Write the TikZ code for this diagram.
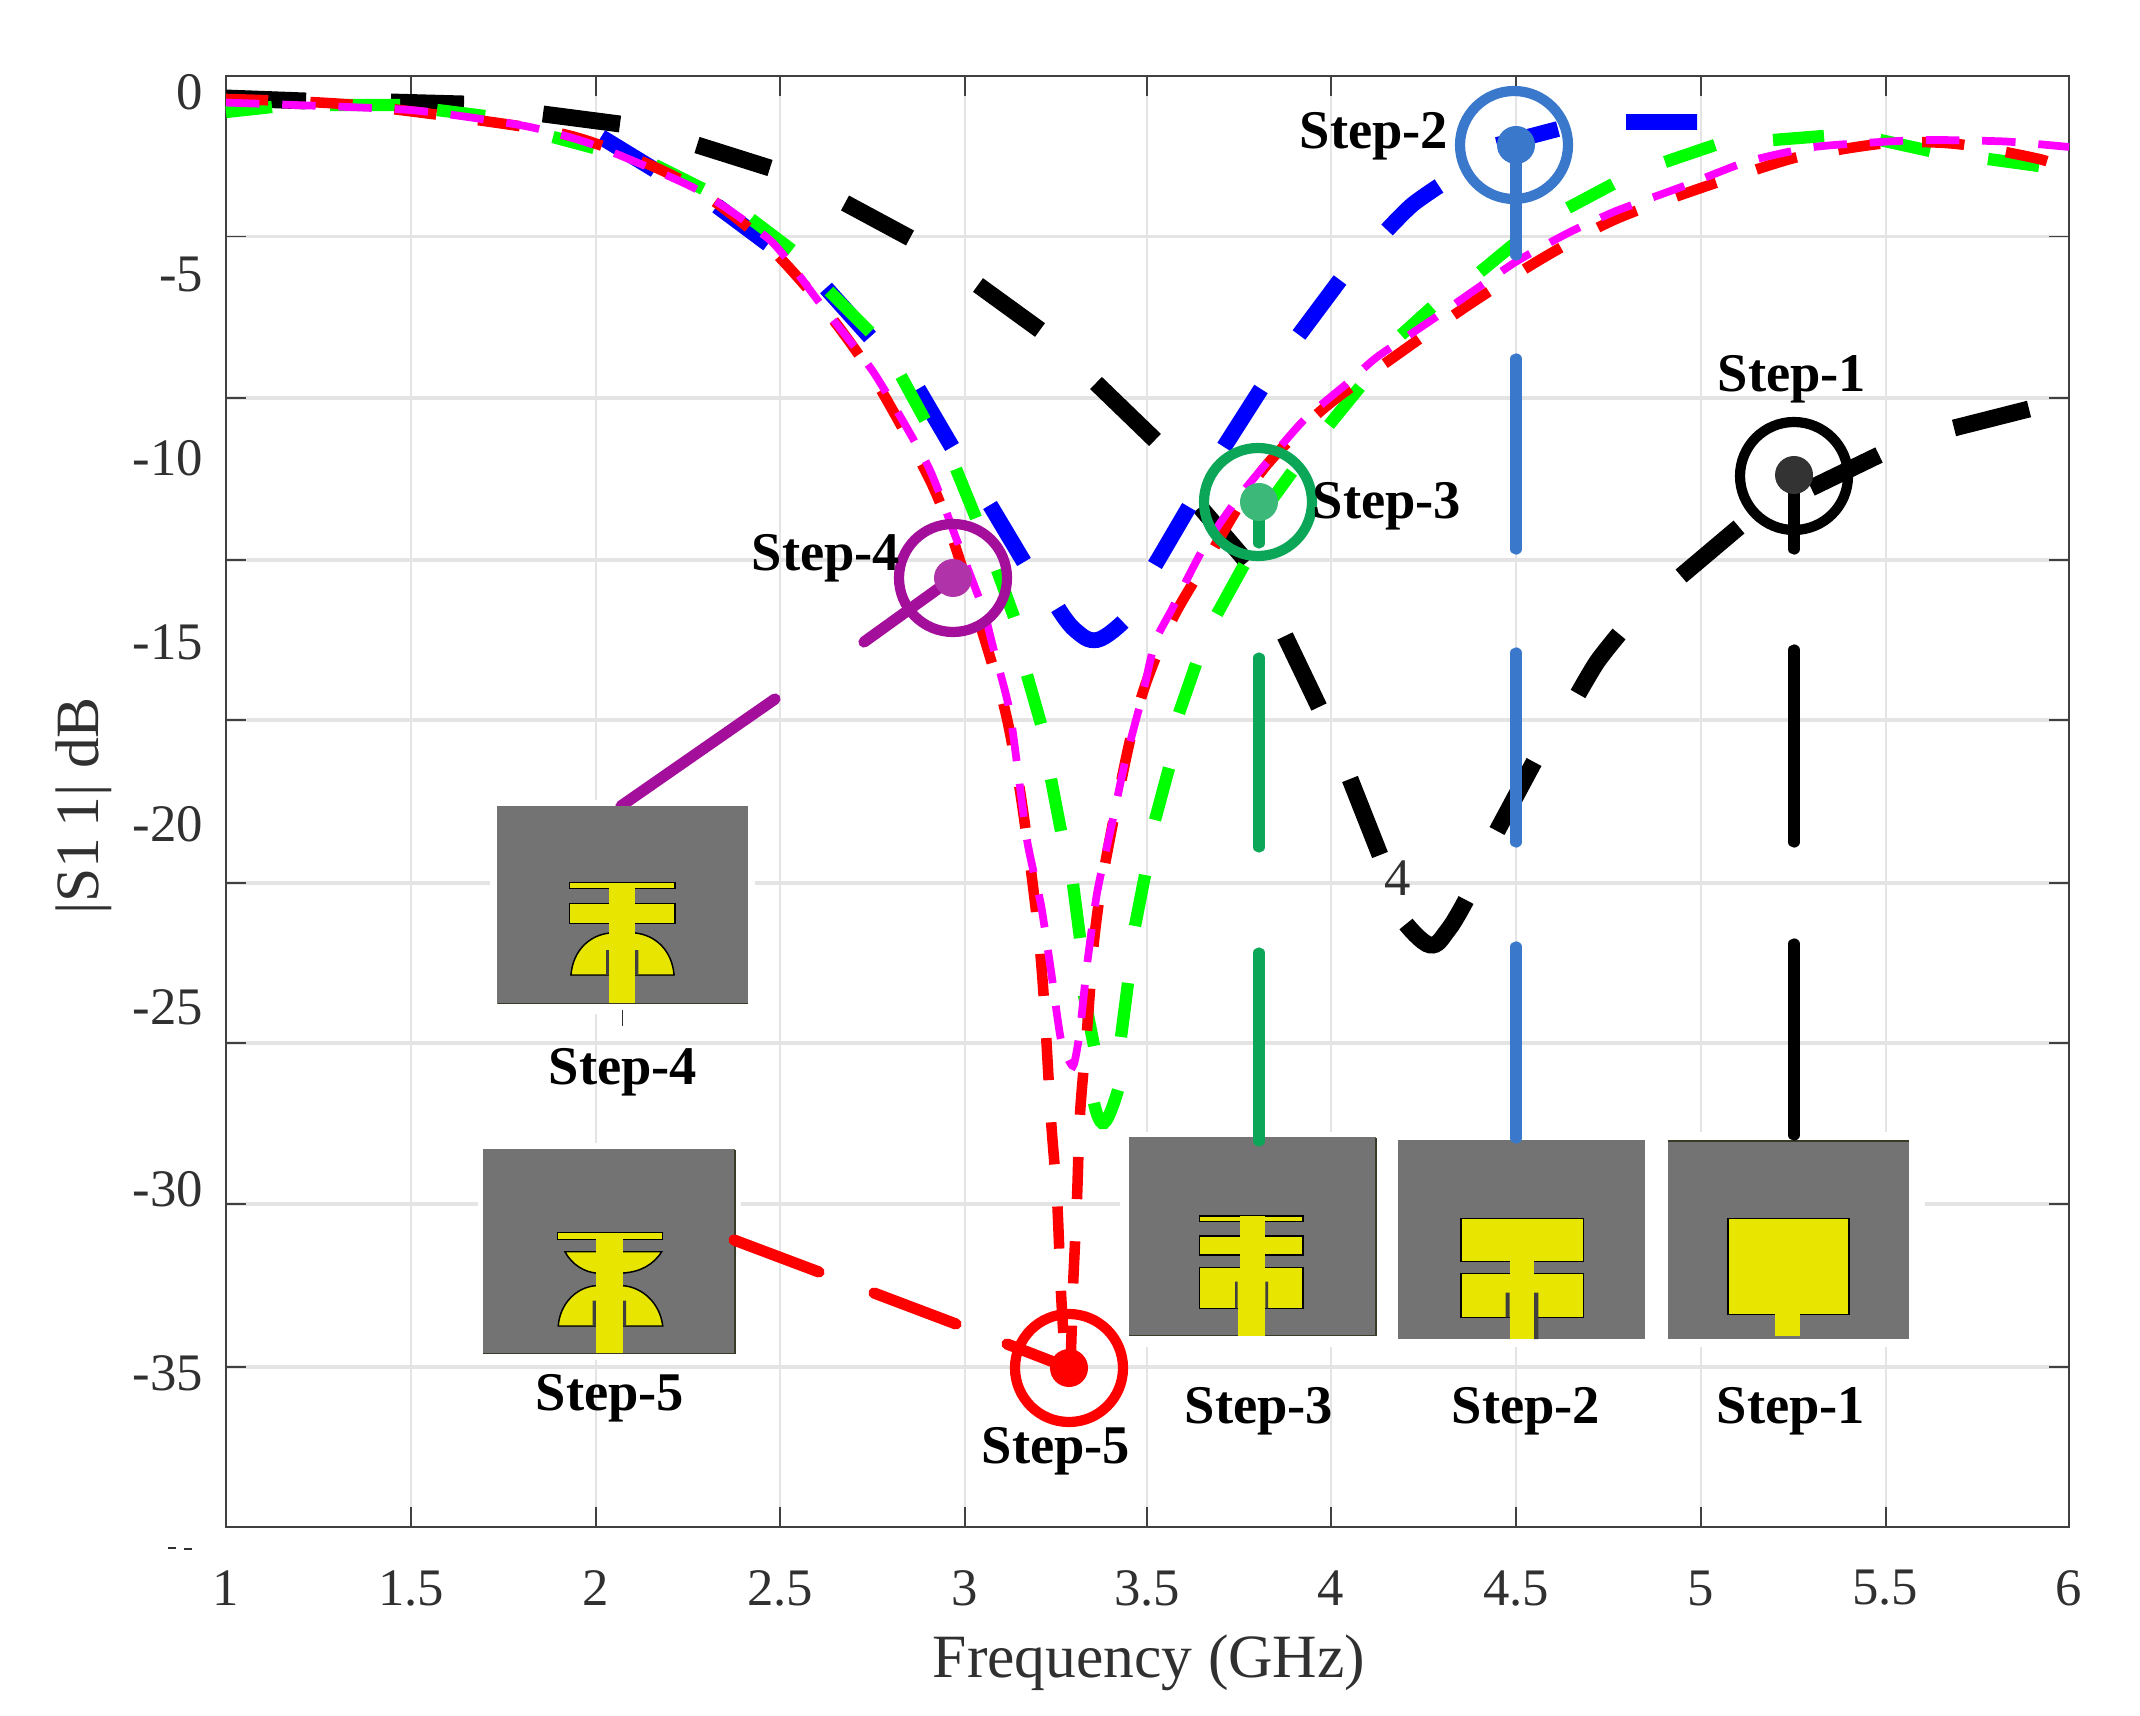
\documentclass[tikz,border=0pt]{standalone}
\usepackage{fontspec}
\setmainfont{Liberation Serif}
\definecolor{gridc}{HTML}{E4E4E4}
\definecolor{axisc}{HTML}{404040}
\definecolor{txtc}{HTML}{303030}
\definecolor{subc}{HTML}{737373}
\definecolor{antY}{HTML}{E8E600}
\definecolor{antD}{HTML}{3A3A28}
\definecolor{mkA}{HTML}{000000}
\definecolor{mkB}{HTML}{3A78CC}
\definecolor{mkC}{HTML}{0BA658}
\definecolor{mkD}{HTML}{A30F9A}
\definecolor{mkE}{HTML}{FF0000}
\definecolor{cBlue}{HTML}{0000FF}
\definecolor{cGreen}{HTML}{00FF00}
\definecolor{cRed}{HTML}{FF0000}
\definecolor{cMag}{HTML}{FF00FF}
\tikzset{
  x=0.01cm,y=-0.01cm,
  gridv/.style={gridc,line width=0.6pt},
  gridh/.style={gridc,line width=0.9pt},
  axisl/.style={axisc,line width=0.7pt},
  tickl/.style={axisc,line width=0.5pt},
  ticktxt/.style={font=\fontsize{15}{18}\selectfont,text=txtc,inner sep=0pt},
  axtxt/.style={font=\fontsize{17.5}{20}\selectfont,text=txtc,inner sep=0pt},
  steptxt/.style={font=\fontsize{15.5}{18}\selectfont\bfseries,inner sep=0pt},
  curveK/.style={black,line width=4.8pt},
  curveB/.style={cBlue,line width=4.5pt},
  curveG/.style={cGreen,line width=3.5pt},
  curveR/.style={cRed,line width=3pt,dash pattern=on 12pt off 12pt},
  curveM/.style={cMag,line width=2.2pt,dash pattern=on 9.5pt off 6.5pt},
  mark ring/.style={#1,line width=2.9pt},
  lead/.style={#1,line width=3.2pt,line cap=round},
  sub/.style={fill=subc},
  ant/.style={fill=antY,preaction={draw=antD,line width=0.4pt}},
  antp/.style={fill=antY},
  slot/.style={fill=subc!55!black},
  mask/.style={fill=white}
}
\begin{document}
\begin{tikzpicture}
\useasboundingbox (0,0) rectangle (2140,1716);
\fill[white] (0,0) rectangle (2140,1716);
% grid
\foreach \xx in {411,596,780,965,1147,1331,1516,1701,1886}
  \draw[gridv] (\xx,76) -- (\xx,1527);
\foreach \yy in {236.5,398,560,720,883,1043,1204,1367}
  \draw[gridh] (226,\yy) -- (2069,\yy);
% ticks
\foreach \xx in {411,596,780,965,1147,1331,1516,1701,1886}{
  \draw[tickl] (\xx,76) -- (\xx,96);
  \draw[tickl] (\xx,1527) -- (\xx,1507);}
\foreach \yy in {236.5,398,560,720,883,1043,1204,1367}{
  \draw[tickl] (226,\yy) -- (246,\yy);
  \draw[tickl] (2069,\yy) -- (2049,\yy);}
\draw[axisl] (226,76) rectangle (2069,1527);
% tick labels
\node[ticktxt,anchor=east] (ya) at (204,92) {0};
\node[ticktxt,anchor=east] (yb) at (204,274) {-5};
\node[ticktxt,anchor=east] (yc) at (204,458) {-10};
\node[ticktxt,anchor=east] (yd) at (204,642) {-15};
\node[ticktxt,anchor=east] (ye) at (204,824) {-20};
\node[ticktxt,anchor=east] (yf) at (204,1007) {-25};
\node[ticktxt,anchor=east] (yg) at (204,1189) {-30};
\node[ticktxt,anchor=east] (yh) at (204,1373) {-35};
\draw[txtc,line width=0.4pt] (168,1548) -- (176,1548) (184,1549) -- (192,1549);
\node[ticktxt] (xa) at (226,1588) {1};
\node[ticktxt] (xb) at (411,1588) {1.5};
\node[ticktxt] (xc) at (596,1588) {2};
\node[ticktxt] (xd) at (780,1588) {2.5};
\node[ticktxt] (xe) at (965,1588) {3};
\node[ticktxt] (xf) at (1147,1588) {3.5};
\node[ticktxt] (xg) at (1331,1588) {4};
\node[ticktxt] (xh) at (1516,1588) {4.5};
\node[ticktxt] (xi) at (1701,1588) {5};
\node[ticktxt] (xj) at (1885,1588) {5.5};
\node[ticktxt] (xk) at (2069,1588) {6};
\node[axtxt] (xlab) at (1149,1663) {Frequency (GHz)};
\node[axtxt,rotate=90] (ylab) at (84,806) {|S1\,1| dB};
% black curve
\draw[curveK] (226,98)--(306,101) (391,102)--(464,104) (543,114)--(620,124)
  (697,145)--(770,168) (845,203)--(910,238) (978,285)--(1040,330)
  (1096,383)--(1155,440) (1200,507)--(1247,562) (1285,636)--(1319,707)
  (1350,779)--(1380,855);
\draw[curveK] plot[smooth,tension=0.7] coordinates {(1406,924) (1430,945) (1448,930) (1466,900)};
\draw[curveK] (1497,831)--(1534,762);
\draw[curveK] plot[smooth] coordinates {(1578,694) (1597,662) (1619,634)};
\draw[curveK] (1681,576)--(1739,527) (1811,488)--(1879,455) (1954,428)--(2029,409);
\node[ticktxt] (stray) at (1398,878) {4};
% blue curve
\draw[curveB] (601,137)--(655,170) (717,206)--(768,244) (826,288)--(870,337)
  (918,389)--(952,447) (990,505)--(1024,562);
\draw[curveB] plot[smooth,tension=0.7] coordinates {(1058,608) (1075,630) (1097,640) (1123,622)};
\draw[curveB] (1155,565)--(1189,507) (1224,447)--(1261,389) (1299,335)--(1340,280);
\draw[curveB] plot[smooth] coordinates {(1387,230) (1412,205) (1439,186)};
\draw[curveB] (1497,145)--(1558,129) (1626,122)--(1697,122);
% green curve
\draw[curveG] (226,112)--(272,107) (330,105)--(400,105) (437,110)--(485,116)
  (553,137)--(594,148) (655,165)--(703,189) (751,219)--(792,250)
  (829,291)--(870,332) (901,376)--(925,420) (956,469)--(976,518)
  (997,570)--(1014,617) (1027,675)--(1041,724) (1051,779)--(1061,831)
  (1073,884)--(1080,938) (1084,995)--(1094,1046);
\draw[curveG] plot[smooth,tension=0.8] coordinates {(1094,1103) (1104,1123) (1118,1090)};
\draw[curveG] (1121,1037)--(1128,983) (1135,926)--(1145,875) (1155,820)--(1169,768)
  (1179,713)--(1196,664) (1217,614)--(1244,565) (1268,505)--(1292,472)
  (1329,425)--(1360,387) (1401,335)--(1432,307) (1480,272)--(1514,244)
  (1568,208)--(1613,184) (1665,162)--(1715,145) (1773,140)--(1824,136)
  (1880,140)--(1930,151) (1988,159)--(2039,166);
% red curve
\draw[curveR] plot[smooth,tension=0.5] coordinates {(226,99) (355,105) (525,127) (594,143) (683,181) (758,236) (819,302) (867,367) (911,444) (945,516) (1000,691) (1017,773) (1027,840) (1038,929) (1044,1001) (1051,1120) (1057,1198) (1061,1293) (1065,1353) (1070,1368) (1073,1287) (1077,1198) (1080,1114) (1087,1030) (1094,941) (1104,870) (1128,749) (1145,686) (1172,620) (1207,560) (1261,472) (1323,409) (1394,357) (1473,302) (1548,255) (1616,219) (1698,189) (1780,162) (1814,154) (1889,143) (1957,144) (2039,159) (2069,170)};
% magenta curve
\draw[curveM] plot[smooth,tension=0.35] coordinates {(226,102.6) (410,110) (525,126) (594,145) (696,189) (771,241) (819,302) (874,373) (928,466) (956,538) (983,609) (993,647) (1010,713) (1027,840) (1041,905) (1051,971) (1061,1040) (1073,1066) (1080,1030) (1087,965) (1097,893) (1111,828) (1125,762) (1142,697) (1155,642) (1172,609) (1203,549) (1241,494) (1302,422) (1350,381) (1377,357) (1439,315) (1514,263) (1568,233) (1616,211) (1684,186) (1746,162) (1807,148) (1848,144) (1923,140) (2005,141.5) (2069,147)};
% masks
\fill[mask] (1120,1132) rectangle (1925,1347);
\fill[mask] (490,800) rectangle (755,1014);
\fill[mask] (478,1143) rectangle (741,1360);
% Step-4 inset
\coordinate (cD) at (953,578);
\coordinate (iD) at (621,806);
\coordinate (gD1) at (864,642);
\coordinate (gD2) at (775,699);
\draw[lead=mkD] (cD) -- (gD1);
\draw[lead=mkD] (gD2) -- (iD);
\fill[sub] (497,806) rectangle (748,1004);
\draw[antD,line width=0.5pt] (498,1003.5) -- (748,1003.5);
\draw[ant] (569.3,882.7) rectangle (675,888.3);
\draw[ant] (569.3,903.3) rectangle (675,923.3);
\draw[ant] (571,975) .. controls (573,950) and (590,935) .. (610,933) -- (635,933) .. controls (655,935) and (672,950) .. (674,975) -- cycle;
\fill[slot] (606,950) rectangle (609.3,975) (635,950) rectangle (638.3,975);
\fill[antp] (609.3,882.7) rectangle (635,1002.7);
\draw[txtc,line width=0.4pt] (622.5,1010) -- (622.5,1026);
% Step-5 inset
\coordinate (cE) at (1069,1368);
\coordinate (iE) at (734,1240);
\coordinate (gE1) at (1007,1344);
\coordinate (gE2) at (956,1324);
\coordinate (gE3) at (874,1293);
\coordinate (gE4) at (819,1272);
\fill[sub] (483.3,1149.3) rectangle (735,1354);
\draw[antD,line width=0.5pt] (483.3,1353.5) -- (735,1353.5) -- (735,1150);
\draw[ant] (557.3,1232.7) rectangle (662.7,1239.3);
\draw[ant] (565,1251.7) .. controls (572,1265) and (585,1272) .. (596,1273) -- (622.7,1273) .. controls (640,1272) and (653,1265) .. (661.7,1251.7) -- cycle;
\draw[ant] (558.3,1326) .. controls (560,1303) and (577,1287) .. (596,1285.7) -- (622.7,1285.7) .. controls (642,1287) and (660,1303) .. (662.7,1326) -- cycle;
\fill[slot] (592.7,1300.7) rectangle (596,1326) (622.7,1300.7) rectangle (626,1326);
\fill[antp] (596,1232.7) rectangle (622.7,1353);
\draw[lead=mkE] (cE) -- (gE1);
\draw[lead=mkE] (gE2) -- (gE3);
\draw[lead=mkE] (gE4) -- (iE);
% Step-3 inset
\coordinate (cC) at (1259,502);
\coordinate (iC) at (1259,1141);
\coordinate (gC1) at (1259,543);
\coordinate (gC2) at (1259,658);
\coordinate (gC3) at (1259,847);
\coordinate (gC4) at (1259,953);
\fill[sub] (1129.4,1137.3) rectangle (1376.3,1336);
\draw[antD,line width=0.5pt] (1129.4,1335.5) -- (1376.3,1335.5) -- (1376.3,1138);
\draw[ant] (1199.5,1216) rectangle (1303,1221.7);
\draw[ant] (1199.5,1236) rectangle (1303,1255);
\draw[ant] (1199.5,1267.7) rectangle (1303,1308.3);
\fill[slot] (1235,1281.7) rectangle (1237.7,1308.3) (1265.4,1281.7) rectangle (1268,1308.3);
\fill[antp] (1240.3,1216) rectangle (1265.4,1282);
\fill[antp] (1237.7,1282) rectangle (1265.4,1335.5);
% Step-2 inset
\coordinate (cB) at (1516,145);
\coordinate (iB) at (1516,1138);
\coordinate (gB1) at (1516,255);
\coordinate (gB2) at (1516,359);
\coordinate (gB3) at (1516,549);
\coordinate (gB4) at (1516,653);
\coordinate (gB5) at (1516,842);
\coordinate (gB6) at (1516,947);
\fill[sub] (1398.2,1140) rectangle (1645,1339);
\draw[ant] (1461,1218.3) rectangle (1583.4,1261.7);
\draw[ant] (1461,1273.3) rectangle (1583.4,1317.3);
\fill[slot] (1505.5,1292.7) rectangle (1509.6,1317.3) (1534.2,1292.7) rectangle (1538.4,1339);
\fill[antp] (1509.6,1261) rectangle (1534.2,1339);
% Step-1 inset
\coordinate (cA) at (1794,475);
\coordinate (iA) at (1794,1135);
\coordinate (gA1) at (1794,549);
\coordinate (gA2) at (1794,650);
\coordinate (gA3) at (1794,842);
\coordinate (gA4) at (1794,944);
\fill[sub] (1667.6,1140) rectangle (1908.7,1339);
\draw[antD,line width=0.6pt] (1667.6,1141) -- (1908.7,1141);
\draw[ant] (1727.8,1218.3) rectangle (1849,1314.3);
\fill[antp] (1775.4,1312) rectangle (1800,1336);
% leaders
\draw[lead=mkA] (cA) -- (gA1);
\draw[lead=mkA] (gA2) -- (gA3);
\draw[lead=mkA] (gA4) -- (iA);
\draw[lead=mkB] (cB) -- (gB1);
\draw[lead=mkB] (gB2) -- (gB3);
\draw[lead=mkB] (gB4) -- (gB5);
\draw[lead=mkB] (gB6) -- (iB);
\draw[lead=mkC] (cC) -- (gC1);
\draw[lead=mkC] (gC2) -- (gC3);
\draw[lead=mkC] (gC4) -- (iC);
% markers
\fill[black!80] (cA) circle (19);
\fill[mkB] (cB) circle (19);
\fill[mkC!80!white] (cC) circle (19);
\fill[mkD!85!white] (cD) circle (19);
\fill[mkE] (cE) circle (19);
\draw[mark ring=black] (1794,476) circle (54);
\draw[mark ring=mkB] (1514,145) circle (54);
\draw[mark ring=mkC] (1258,502) circle (54);
\draw[mark ring=mkD] (953,578) circle (54);
\draw[mark ring=mkE] (1069,1368) circle (54);
% labels
\node[steptxt] (la) at (1792,379) {Step-1};
\node[steptxt] (lb) at (1374,136) {Step-2};
\node[steptxt] (lc) at (1387,506) {Step-3};
\node[steptxt] (ld) at (826,558) {Step-4};
\node[steptxt] (le) at (1056,1451) {Step-5};
\node[steptxt] (ia) at (1791,1411) {Step-1};
\node[steptxt] (ib) at (1526,1411) {Step-2};
\node[steptxt] (ic) at (1259,1411) {Step-3};
\node[steptxt] (id) at (623,1072) {Step-4};
\node[steptxt] (ie) at (610,1398) {Step-5};
\end{tikzpicture}
\end{document}
